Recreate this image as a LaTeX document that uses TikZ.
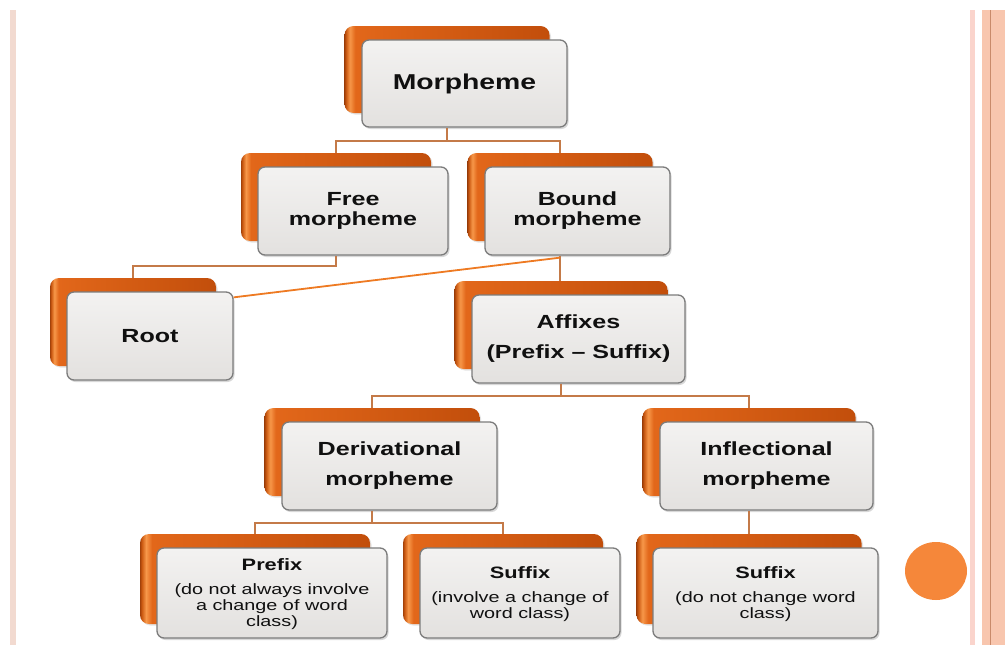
\documentclass[tikz,border=0pt]{standalone}
\usepackage{fontspec}
\setmainfont{Liberation Sans}[FakeStretch=1.32]
\usetikzlibrary{shadows,calc}

% palette
\definecolor{bkEdge}{HTML}{A3420A}
\definecolor{bkMid}{HTML}{CC5A12}
\definecolor{bkLight}{HTML}{F7984A}
\definecolor{bkBody}{HTML}{E2671A}
\definecolor{bkRight}{HTML}{C24E0B}
\definecolor{frontTop}{HTML}{F3F2F1}
\definecolor{frontBot}{HTML}{E3E1DF}
\definecolor{boxline}{HTML}{7C7C7C}
\definecolor{txt}{HTML}{101010}
\definecolor{linkc}{HTML}{C47A48}
\definecolor{linkhot}{HTML}{EE7A22}
\definecolor{railA}{HTML}{F2DAD0}
\definecolor{railB}{HTML}{FAD4CC}
\definecolor{railC}{HTML}{F8C6AE}
\definecolor{railD}{HTML}{C98A6A}
\definecolor{dotc}{HTML}{F5873A}

% orange card behind each label: dark rim, bright streak, then plain orange
\pgfdeclarehorizontalshading{backshade}{100bp}{%
  color(0bp)=(bkEdge); color(25bp)=(bkEdge); color(25.4bp)=(bkMid);
  color(26.3bp)=(bkLight); color(27.6bp)=(bkBody); color(75bp)=(bkRight);
  color(100bp)=(bkRight)}

\tikzset{
  backbox/.style={rounded corners=9pt, shade, shading=backshade, draw=none,
    inner sep=0pt,
    drop shadow={shadow xshift=1.5pt, shadow yshift=-1.5pt, opacity=.22}},
  frontbox/.style={rounded corners=7pt, draw=boxline, line width=1.3pt,
    top color=frontTop, bottom color=frontBot, align=center, text=txt,
    inner sep=2pt,
    drop shadow={shadow xshift=1.5pt, shadow yshift=-2pt, opacity=.3}},
  link/.style={draw=linkc, line width=2pt},
  bigtitle/.style={font=\fontsize{21.5}{22}\selectfont\bfseries},
  midtitle/.style={font=\fontsize{19}{20}\selectfont\bfseries},
  widetitle/.style={font=\fontsize{19}{30}\selectfont\bfseries},
  smalltext/.style={font=\fontsize{15}{16}\selectfont, text depth=0pt},
}
\newcommand\cardhead[1]{{\fontsize{16.5}{16}\selectfont\bfseries #1}\\[8pt]}

\begin{document}
\begin{tikzpicture}[x=1pt,y=-1pt]
  \useasboundingbox (0,0) rectangle (1005,645);
  \fill[white] (0,0) rectangle (1005,645);

  % page rails
  \fill[railA] (10,10) rectangle (16,645);
  \fill[railB] (970,10) rectangle (975,645);
  \fill[railC] (982,10) rectangle (1005,645);
  \draw[railD, line width=1pt] (990,10) -- (990,645);

  % bullet
  \fill[dotc] (936,571) ellipse [x radius=31pt, y radius=29pt];

  % orange back cards
  \node[backbox, minimum width=205, minimum height=87] (morphB)  at (447,69.5) {};
  \node[backbox, minimum width=190, minimum height=88] (freeB)   at (336,197) {};
  \node[backbox, minimum width=185, minimum height=88] (boundB)  at (560,197) {};
  \node[backbox, minimum width=166, minimum height=88] (rootB)   at (133,322) {};
  \node[backbox, minimum width=213, minimum height=88] (affixB)  at (561,325) {};
  \node[backbox, minimum width=215, minimum height=88] (derivB)  at (372,452) {};
  \node[backbox, minimum width=213, minimum height=88] (inflB)   at (749,452) {};
  \node[backbox, minimum width=230, minimum height=90] (prefixB) at (255,579) {};
  \node[backbox, minimum width=200, minimum height=90] (sufAB)   at (503,579) {};
  \node[backbox, minimum width=225, minimum height=90] (sufBB)   at (749,579) {};

  % grey front cards with labels
  \node[frontbox, bigtitle, minimum width=205, minimum height=87] (morph) at (464.5,83.5) {Morpheme};
  \node[frontbox, midtitle, minimum width=190, minimum height=88] (free) at (353,211) {Free\\morpheme};
  \node[frontbox, midtitle, minimum width=185, minimum height=88] (bound) at (577.5,211) {Bound\\morpheme};
  \node[frontbox, midtitle, minimum width=166, minimum height=88] (root) at (150,336) {Root};
  \node[frontbox, widetitle, minimum width=213, minimum height=88] (affix) at (578.5,339) {Affixes\\(Prefix – Suffix)};
  \node[frontbox, widetitle, minimum width=215, minimum height=88] (deriv) at (389.5,466) {Derivational\\morpheme};
  \node[frontbox, widetitle, minimum width=213, minimum height=88] (infl) at (766.5,466) {Inflectional\\morpheme};
  \node[frontbox, smalltext, minimum width=230, minimum height=90] (prefix) at (272,593)
    {\cardhead{Prefix}(do not always involve\\a change of word\\class)};
  \node[frontbox, smalltext, minimum width=200, minimum height=90] (sufA) at (520,593)
    {\cardhead{Suffix}(involve a change of\\word class)};
  \node[frontbox, smalltext, minimum width=225, minimum height=90] (sufB) at (765.5,593)
    {\cardhead{Suffix}(do not change word\\class)};

  \coordinate (rootTip) at ($(root.north east)+(0,6)$);

  % connectors
  \draw[link] (morphB |- morph.south) -- ++(0,13) coordinate (j1) -| (freeB.north);
  \draw[link] (j1) -| (boundB.north);
  \draw[link] (freeB |- free.south) -- ++(0,10) -| (rootB.north);
  \draw[link] (boundB |- bound.south) -- (boundB |- affixB.north);
  \draw[link] (affixB |- affix.south) -- ++(0,12) coordinate (j2) -| (derivB.north);
  \draw[link] (j2) -| (inflB.north);
  \draw[link] (derivB |- deriv.south) -- ++(0,12) coordinate (j3) -| (prefixB.north);
  \draw[link] (j3) -| (sufAB.north);
  \draw[link] (inflB |- infl.south) -- (sufBB.north);
  \draw[draw=linkhot, line width=1.8pt] ($(boundB |- bound.south)+(0,2)$) -- (rootTip);
\end{tikzpicture}
\end{document}
